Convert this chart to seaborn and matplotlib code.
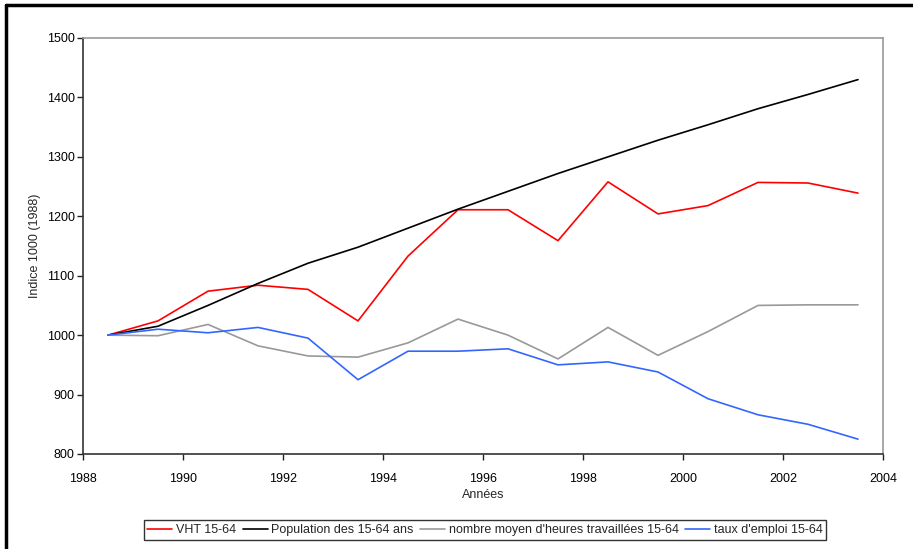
import matplotlib
matplotlib.use("Agg")
import matplotlib.pyplot as plt
from matplotlib.lines import Line2D
import seaborn as sns
import pandas as pd

years = [1988.5 + i for i in range(16)]
vht = [1000, 1024, 1074, 1084, 1077, 1024, 1133, 1211, 1211, 1159, 1258, 1204, 1218, 1257, 1256, 1239]
population = [1000, 1015, 1050, 1087, 1121, 1148, 1180, 1212, 1242, 1272, 1300, 1328, 1354, 1381, 1405, 1430]
heures = [1000, 999, 1018, 982, 965, 963, 987, 1027, 1000, 960, 1013, 966, 1006, 1050, 1051, 1051]
emploi = [1000, 1010, 1004, 1013, 995, 925, 973, 973, 977, 950, 955, 938, 893, 866, 850, 825]

series_names = ["VHT 15-64", "Population des 15-64 ans",
                "nombre moyen d'heures travaillées 15-64", "taux d'emploi 15-64"]
colors = ["#ff0000", "#000000", "#999999", "#3366ff"]

df = pd.DataFrame({"Année": years * 4,
                   "Valeur": vht + population + heures + emploi,
                   "Série": sum([[n] * len(years) for n in series_names], [])})

sns.set_style("white")
plt.rcParams['font.family'] = ['Liberation Sans', 'DejaVu Sans']

fig = plt.figure(figsize=(9.13, 5.49), dpi=100)
ax = fig.add_axes([83 / 913, 1 - 454 / 549, 800 / 913, 416 / 549])

sns.lineplot(data=df, x="Année", y="Valeur", hue="Série", palette=dict(zip(series_names, colors)),
             hue_order=series_names, linewidth=1.2, ax=ax, legend=False)

ax.set_xlim(1988, 2004)
ax.set_ylim(800, 1500)
ax.set_xticks(range(1988, 2005, 2))
ax.set_yticks(range(800, 1501, 100))
ax.tick_params(axis="both", labelsize=9, length=4, width=1, direction="out", colors="#222222",
               labelcolor="black", bottom=True, left=True)
ax.tick_params(axis="x", pad=10)
ax.tick_params(axis="y", pad=2)
ax.set_xlabel("Années", fontsize=9, va="center")
ax.set_ylabel("Indice 1000 (1988)", fontsize=9, va="center")
ax.xaxis.set_label_coords(0.5, (454 - 495) / 416)
ax.yaxis.set_label_coords((35 - 83) / 800, 0.5)

for s in ["top", "right"]:
    ax.spines[s].set_color("#999999")
    ax.spines[s].set_linewidth(1.2)
for s in ["left", "bottom"]:
    ax.spines[s].set_color("#333333")
    ax.spines[s].set_linewidth(1.2)

handles = [Line2D([0], [0], color=c, lw=1.2) for c in colors]
leg = fig.legend(handles, series_names, loc="center", bbox_to_anchor=(485 / 913, 1 - 530 / 549),
                 ncol=4, fontsize=9, frameon=True, fancybox=False, handlelength=2.0,
                 handletextpad=0.3, columnspacing=0.5, borderpad=0.3, edgecolor="black")
leg.get_frame().set_linewidth(1.0)

# figure border (top and left)
fig.add_artist(Line2D([6 / 913, 6 / 913], [0, 1 - 5 / 549], transform=fig.transFigure, color="black", lw=2.5))
fig.add_artist(Line2D([6 / 913, 1], [1 - 5 / 549, 1 - 5 / 549], transform=fig.transFigure, color="black", lw=2.5))

fig.savefig("out.png", dpi=100, facecolor="white")
